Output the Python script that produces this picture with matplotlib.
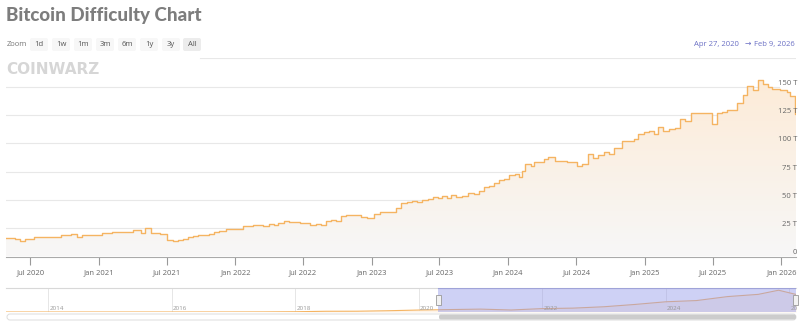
import numpy as np
import pandas as pd
import matplotlib.pyplot as plt
import matplotlib.dates as mdates
from matplotlib.patches import FancyBboxPatch, Rectangle, PathPatch

plt.rcParams['font.family'] = ['Open Sans', 'DejaVu Sans']

# difficulty adjustments (start date, trillions)
adj_dates = [
    '2020-04-27', '2020-05-20', '2020-06-03', '2020-06-16', '2020-07-10', '2020-07-23',
    '2020-08-06', '2020-08-20', '2020-09-03', '2020-09-20', '2020-10-19', '2020-11-03',
    '2020-11-17', '2020-12-01', '2020-12-14', '2020-12-29', '2021-01-08', '2021-01-22',
    '2021-02-05', '2021-02-19', '2021-03-05', '2021-03-19', '2021-04-01', '2021-04-14',
    '2021-04-24', '2021-05-04', '2021-05-21', '2021-06-13', '2021-07-03', '2021-07-17',
    '2021-07-31', '2021-08-13', '2021-08-27', '2021-09-10', '2021-09-24', '2021-10-09',
    '2021-10-23', '2021-11-05', '2021-11-18', '2021-12-08', '2022-01-05', '2022-01-21',
    '2022-02-03', '2022-02-17', '2022-03-03', '2022-03-17', '2022-03-31', '2022-04-13',
    '2022-04-26', '2022-05-11', '2022-05-25', '2022-06-22', '2022-07-06', '2022-07-20',
    '2022-08-04', '2022-08-18', '2022-08-31', '2022-09-13', '2022-09-28', '2022-10-10',
    '2022-10-24', '2022-12-02', '2022-12-18', '2023-01-06', '2023-01-24', '2023-02-10',
    '2023-02-24', '2023-03-06', '2023-03-21', '2023-04-04', '2023-04-18', '2023-05-02',
    '2023-05-16', '2023-05-30', '2023-06-14', '2023-06-28', '2023-07-08', '2023-07-22',
    '2023-08-02', '2023-08-15', '2023-08-29', '2023-09-14', '2023-10-01', '2023-10-15',
    '2023-10-29', '2023-11-10', '2023-11-24', '2023-12-07', '2023-12-21', '2024-01-04',
    '2024-01-18', '2024-01-30', '2024-02-06', '2024-02-15', '2024-03-01', '2024-03-11',
    '2024-04-05', '2024-04-17', '2024-05-05', '2024-06-05', '2024-07-03', '2024-07-16',
    '2024-08-01', '2024-08-16', '2024-08-29', '2024-09-12', '2024-09-26', '2024-10-09',
    '2024-10-23', '2024-11-01', '2024-11-18', '2024-12-02', '2024-12-14', '2024-12-30',
    '2025-01-12', '2025-01-25', '2025-02-06', '2025-02-19', '2025-03-06', '2025-03-21',
    '2025-04-05', '2025-04-18', '2025-05-04', '2025-05-17', '2025-06-29', '2025-07-13',
    '2025-07-26', '2025-08-09', '2025-08-22', '2025-09-05', '2025-09-20', '2025-10-02',
    '2025-10-16', '2025-10-29', '2025-11-13', '2025-11-25', '2025-12-07', '2025-12-28',
    '2026-01-16', '2026-01-25', '2026-02-06',
]
difficulty = [
    16.6, 15.1, 13.7, 15.8, 17.3, 16.9,
    17.3, 17.6, 17.3, 19.3, 20.0, 16.8,
    18.7, 18.6, 19.2, 18.6, 20.6, 20.8,
    21.4, 21.7, 21.4, 21.9, 23.1, 23.6,
    20.6, 25.0, 21.1, 19.9, 14.4, 13.7,
    14.4, 15.6, 17.6, 18.4, 19.3, 19.0,
    20.1, 21.7, 22.3, 24.3, 24.4, 26.7,
    26.6, 28.0, 27.5, 27.0, 28.6, 28.2,
    29.8, 31.3, 30.3, 29.9, 29.6, 27.7,
    28.4, 27.7, 30.9, 32.0, 31.4, 35.6,
    36.8, 34.7, 34.4, 37.6, 39.4, 39.2,
    39.4, 43.1, 46.8, 47.9, 48.7, 48.0,
    49.5, 50.7, 52.2, 52.0, 53.6, 51.6,
    54.2, 52.6, 53.0, 55.8, 55.0, 57.8,
    61.0, 62.5, 64.7, 67.3, 68.6, 72.0,
    73.2, 70.3, 75.5, 81.7, 79.5, 83.1,
    86.4, 88.1, 84.0, 83.7, 79.5, 82.0,
    90.7, 86.9, 89.5, 92.5, 90.5, 95.7,
    95.5, 101.6, 102.3, 103.9, 108.5, 109.8,
    110.5, 108.1, 114.2, 110.6, 112.1, 113.8,
    121.5, 119.9, 126.4, 126.9, 117.0, 126.4,
    127.8, 129.4, 129.7, 135.7, 142.3, 150.8,
    146.7, 156.0, 152.3, 149.3, 148.2, 147.0,
    145.0, 141.7, 125.9,
]
start_date, end_date = '2020-04-27', '2026-02-09'

# navigator overview series (whole history, trillions)
nav_dates = [
    '2013-04-27', '2014-01-01', '2015-01-01', '2016-01-01', '2017-01-01', '2017-07-01',
    '2018-01-01', '2018-07-01', '2019-01-01', '2019-07-01', '2020-01-01', '2020-07-01',
    '2021-01-01', '2021-07-01', '2022-01-01', '2022-07-01', '2023-01-01', '2023-07-01',
    '2024-01-01', '2024-07-01', '2025-01-01', '2025-07-01', '2025-10-29', '2026-02-09',
]
nav_difficulty = [
    0.01, 0.0014, 0.04, 0.1, 0.3, 0.7,
    1.9, 5.2, 5.6, 9.0, 14.0, 17.3,
    20.6, 14.4, 24.4, 27.7, 37.6, 53.9,
    73.2, 82.0, 110.5, 126.4, 156.0, 126.0,
]
nav_start = '2013-04-27'

y_ticks = [0, 25, 50, 75, 100, 125, 150]
y_tick_labels = ['0', '25 T', '50 T', '75 T', '100 T', '125 T', '150 T']
x_tick_dates = ['2020-07-01', '2021-01-01', '2021-07-01', '2022-01-01', '2022-07-01',
                '2023-01-01', '2023-07-01', '2024-01-01', '2024-07-01', '2025-01-01',
                '2025-07-01', '2026-01-01']
x_tick_labels = ['Jul 2020', 'Jan 2021', 'Jul 2021', 'Jan 2022', 'Jul 2022', 'Jan 2023',
                 'Jul 2023', 'Jan 2024', 'Jul 2024', 'Jan 2025', 'Jul 2025', 'Jan 2026']
nav_years = [2014, 2016, 2018, 2020, 2022, 2024, 2026]
zoom_buttons = ['1d', '1w', '1m', '3m', '6m', '1y', '3y', 'All']
button_x = [39, 61, 83, 105, 127, 149, 171, 192]

W, H = 800, 324
fig = plt.figure(figsize=(W / 100, H / 100), dpi=100)


def px_rect(x0, y0, x1, y1):
    return [x0 / W, 1 - y1 / H, (x1 - x0) / W, (y1 - y0) / H]


def dnum(s):
    return mdates.date2num(pd.to_datetime(s))


# ---- main chart ----
ax = fig.add_axes(px_rect(6, 58.2, 796, 256.5))
ax.set_facecolor('none')
x = dnum(adj_dates + [end_date])
y = np.array(difficulty + [difficulty[-1]])
x0, x1 = dnum(start_date), dnum(end_date)

for v in [25, 50, 75, 100, 125, 150]:
    ax.axhline(v, xmin=0, xmax=(779 - 6) / 790, color='#e8e8e8', lw=0.8, zorder=0)
ax.axhline(175, xmin=(200 - 6) / 790, xmax=1, color='#e8e8e8', lw=0.8, zorder=0)

poly = ax.fill_between(x, y, 0, step='post', color='none', lw=0)
clip = PathPatch(poly.get_paths()[0], transform=ax.transData, facecolor='none', edgecolor='none')
ax.add_patch(clip)
g = np.linspace(0, 1, 256)[:, None, None]
bottom_c = np.array([247, 247, 247]) / 255
top_c = np.array([253, 235, 215]) / 255
img = bottom_c + (top_c - bottom_c) * g
im = ax.imshow(img, extent=[x0, x1, 0, 158], origin='lower', aspect='auto', zorder=1)
im.set_clip_path(clip)

ax.step(x, y, where='post', color='#f5b462', lw=1.0, zorder=3)

ax.set_xlim(x0, x1)
ax.set_ylim(0, 175)
ax.set_yticks([])
ax.set_xticks(dnum(x_tick_dates))
ax.set_xticklabels(x_tick_labels)
ax.tick_params(axis='x', length=6, width=0.8, color='#999999', labelsize=5.5,
               labelcolor='#666666', pad=3)
for s in ['top', 'left', 'right']:
    ax.spines[s].set_visible(False)
ax.spines['bottom'].set_color('#aaaaaa')
ax.spines['bottom'].set_linewidth(0.8)

for v, lab in zip(y_ticks, y_tick_labels):
    ax.annotate(lab, xy=(1, v), xycoords=('axes fraction', 'data'), xytext=(1, 3.5),
                textcoords='offset pixels', ha='right', va='center', fontsize=5.5,
                color='#666666', zorder=5)

# ---- navigator ----
nav = fig.add_axes(px_rect(6, 288, 796, 312))
nav.set_facecolor('none')
nx = dnum(nav_dates)
nav.plot(nx, nav_difficulty, color='#f5b462', lw=0.8, zorder=2)
nav.fill_between(nx, nav_difficulty, 0, color='#fdf3e8', lw=0, zorder=1)
for yr in nav_years:
    xd = dnum(f'{yr}-01-01')
    nav.axvline(xd, color='#e6e6e6', lw=0.7, zorder=0)
    if yr < 2026:
        nav.text(xd + 8, 4, str(yr), fontsize=4.5, color='#999999', ha='left', va='bottom', zorder=4)
    else:
        nav.text(xd + 8, 4, str(yr)[:2], fontsize=4.5, color='#999999', ha='left', va='bottom', zorder=4)
nav.axvspan(x0, x1, facecolor=(148 / 255, 153 / 255, 233 / 255), alpha=0.45, lw=0, zorder=3)
nav.plot([x0, x1], [172, 172], color='#9fa3d8', lw=0.8, zorder=3)
nav.set_xlim(dnum(nav_start), x1)
nav.set_ylim(0, 172)
nav.set_xticks([])
nav.set_yticks([])
for s in ['left', 'right', 'bottom']:
    nav.spines[s].set_visible(False)
nav.spines['top'].set_color('#d8d8d8')
nav.spines['top'].set_linewidth(0.8)

# ---- overlay: title, range selector, logo, scrollbar, handles ----
ov = fig.add_axes([0, 0, 1, 1])
ov.set_xlim(0, W)
ov.set_ylim(H, 0)
ov.axis('off')
ov.set_facecolor('none')

ov.text(6, 16, 'Bitcoin Difficulty Chart', fontsize=13.5, fontweight='black', color='#7d7d7d',
        family=['Lato', 'DejaVu Sans'], ha='left', va='center')
ov.text(7, 44.5, 'Zoom', fontsize=5.5, color='#777777', ha='left', va='center')
for bx, lab in zip(button_x, zoom_buttons):
    fc = '#ececec' if lab == 'All' else '#f7f7f7'
    ov.add_patch(FancyBboxPatch((bx - 9, 38), 18, 13, boxstyle='round,pad=0,rounding_size=2',
                                facecolor=fc, edgecolor='none'))
    ov.text(bx, 44.5, lab, fontsize=5.5, color='#555555', ha='center', va='center')

ov.text(739, 44.5, 'Apr 27, 2020', fontsize=5.5, color='#6a6fc4', ha='right', va='center')
ov.text(748, 44.5, '\u2192', fontsize=5.5, color='#6a6fc4', ha='center', va='center')
ov.text(795, 44.5, 'Feb 9, 2026', fontsize=5.5, color='#6a6fc4', ha='right', va='center')

ov.text(6, 69, 'COINWARZ', fontsize=11, fontweight='heavy', color='#d6d6d6',
        family=['DejaVu Sans'], ha='left', va='center')

# scrollbar
ov.add_patch(FancyBboxPatch((7, 314), 789, 6, boxstyle='round,pad=0,rounding_size=3',
                            facecolor='#ffffff', edgecolor='#dddddd', lw=0.7))
ov.add_patch(FancyBboxPatch((439, 314.5), 357, 5, boxstyle='round,pad=0,rounding_size=2',
                            facecolor='#cccccc', edgecolor='none'))
# navigator handles
for hx in [438, 795]:
    ov.add_patch(Rectangle((hx - 2.5, 295), 5, 10, facecolor='#f2f2f2', edgecolor='#999999', lw=0.6))

fig.savefig('out.png', dpi=100)
